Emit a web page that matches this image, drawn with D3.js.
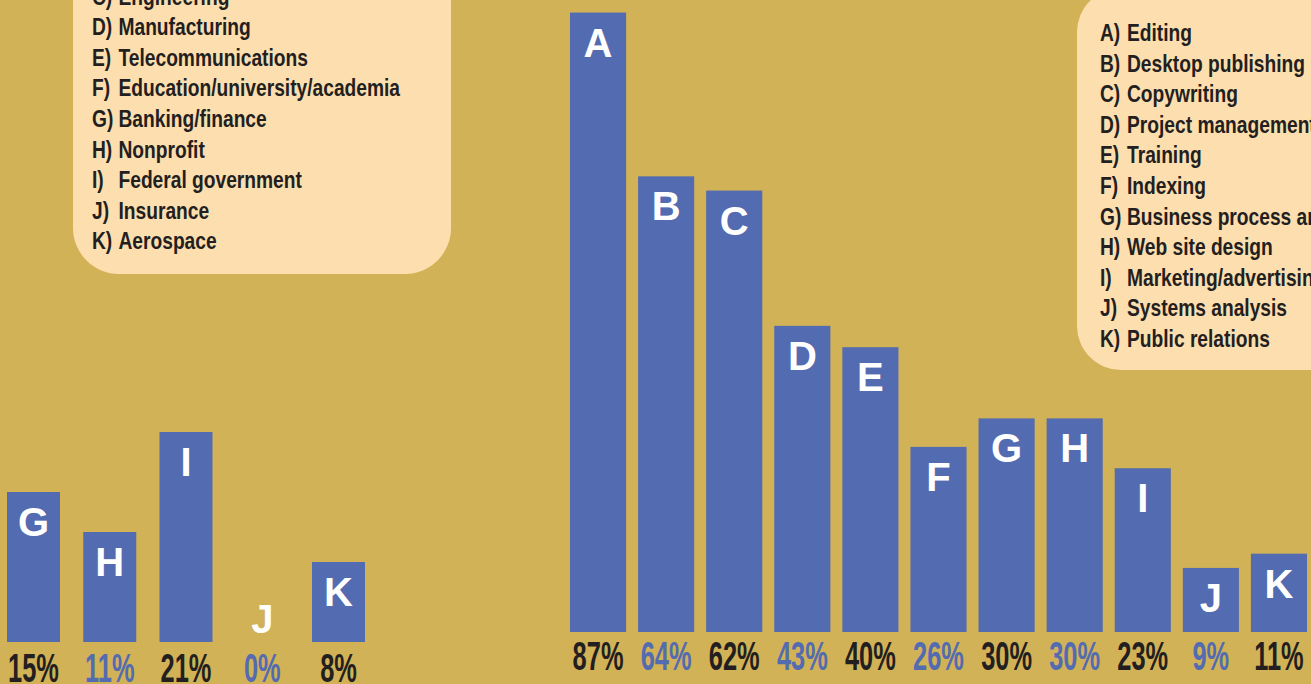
<!DOCTYPE html>
<html>
<head>
<meta charset="utf-8">
<script src="https://cdn.jsdelivr.net/npm/d3@7"></script>
<style>
  body { margin: 0; background: #D2B256; overflow: hidden; }
</style>
</head>
<body>
<div id="viz"></div>
<script>
//Colores fijos
const COLOR_BG = '#D2B256',
COLOR_BOX = '#FDDEAF',
COLOR_BAR = '#536BB0',
COLOR_TEXT = '#231F20';

//Datos - gráfico izquierdo (solo G-K visibles)
const leftLetters = ['G', 'H', 'I', 'J', 'K'];
const leftValues = [15, 11, 21, 0, 8];
const leftLegendKeys = ['C', 'D', 'E', 'F', 'G', 'H', 'I', 'J', 'K'];
const leftLegendLabels = ['Engineering', 'Manufacturing', 'Telecommunications', 'Education/university/academia',
    'Banking/finance', 'Nonprofit', 'Federal government', 'Insurance', 'Aerospace'];

//Datos - gráfico derecho
const rightLetters = ['A', 'B', 'C', 'D', 'E', 'F', 'G', 'H', 'I', 'J', 'K'];
const rightValues = [87, 64, 62, 43, 40, 26, 30, 30, 23, 9, 11];
const rightLegendKeys = ['A', 'B', 'C', 'D', 'E', 'F', 'G', 'H', 'I', 'J', 'K'];
const rightLegendLabels = ['Editing', 'Desktop publishing', 'Copywriting', 'Project management', 'Training',
    'Indexing', 'Business process analysis', 'Web site design', 'Marketing/advertising', 'Systems analysis', 'Public relations'];

const width = 1311, height = 684;

let svg = d3.select('#viz')
    .append('svg')
        .attr('width', width)
        .attr('height', height);

svg.append('rect')
    .attr('width', width)
    .attr('height', height)
    .attr('fill', COLOR_BG);

///// LEYENDAS
function drawLegend(box, keys, labels, x0, firstBaseline, labelOffset) {
    let g = svg.append('g');
    g.append('rect')
        .attr('x', box.x).attr('y', box.y)
        .attr('width', box.w).attr('height', box.h)
        .attr('rx', box.r).attr('ry', box.r)
        .attr('fill', COLOR_BOX);

    let rows = g.selectAll('.row')
        .data(keys)
        .enter()
        .append('g')
        .attr('class', 'row')
        .attr('transform', function(d, i) { return 'translate(0,' + (firstBaseline + i * 30.6) + ')'; });

    rows.append('text')
        .attr('transform', 'translate(' + x0 + ',0) scale(0.8,1)')
        .style('font-family', 'Liberation Sans, Arial, sans-serif')
        .style('font-weight', 'bold')
        .style('font-size', '24px')
        .attr('fill', COLOR_TEXT)
        .text(function(d) { return d + ')'; });

    rows.append('text')
        .attr('transform', 'translate(' + (x0 + labelOffset) + ',0) scale(0.8,1)')
        .style('font-family', 'Liberation Sans, Arial, sans-serif')
        .style('font-weight', 'bold')
        .style('font-size', '24px')
        .attr('fill', COLOR_TEXT)
        .text(function(d, i) { return labels[i]; });
}

drawLegend({x: 73, y: -80, w: 378, h: 354, r: 46}, leftLegendKeys, leftLegendLabels, 92, 4.5, 26.5);
drawLegend({x: 1077, y: -12, w: 300, h: 382, r: 44}, rightLegendKeys, rightLegendLabels, 1100, 41, 27);

///// BARRAS
function drawBars(letters, values, xRange, pad, y0, pxPerPct, pctBaseline) {
    let x = d3.scaleBand()
        .domain(letters)
        .range(xRange)
        .paddingInner(pad)
        .paddingOuter(0);

    let y = d3.scaleLinear()
        .domain([0, 100])
        .range([y0, y0 - 100 * pxPerPct]);

    let data = letters.map(function(d, i) { return {letter: d, value: values[i], idx: rightLetters.indexOf(d)}; });

    let g = svg.append('g');

    g.selectAll('.bar')
        .data(data)
        .enter()
        .append('rect')
        .attr('class', 'bar')
        .attr('x', function(d) { return x(d.letter); })
        .attr('y', function(d) { return y(d.value); })
        .attr('width', x.bandwidth())
        .attr('height', function(d) { return y0 - y(d.value); })
        .attr('fill', COLOR_BAR);

    g.selectAll('.letter')
        .data(data)
        .enter()
        .append('text')
        .attr('class', 'letter')
        .attr('x', function(d) { return x(d.letter) + x.bandwidth() / 2; })
        .attr('y', function(d) { return Math.min(y(d.value) + 44, y0 - 9); })
        .attr('text-anchor', 'middle')
        .style('font-family', 'Liberation Sans, Arial, sans-serif')
        .style('font-weight', 'bold')
        .style('font-size', '40px')
        .attr('fill', '#FFFFFF')
        .text(function(d) { return d.letter; });

    g.selectAll('.pct')
        .data(data)
        .enter()
        .append('text')
        .attr('class', 'pct')
        .attr('transform', function(d) {
            return 'translate(' + (x(d.letter) + x.bandwidth() / 2) + ',' + pctBaseline + ') scale(0.62,1)';
        })
        .attr('text-anchor', 'middle')
        .style('font-family', 'Liberation Sans, Arial, sans-serif')
        .style('font-weight', 'bold')
        .style('font-size', '41px')
        .attr('fill', function(d) { return d.idx % 2 == 0 ? COLOR_TEXT : COLOR_BAR; })
        .text(function(d) { return d.value + '%'; });
}

drawBars(leftLetters, leftValues, [7, 365], 0.305, 642, 10, 682);
drawBars(rightLetters, rightValues, [570, 1307], 0.176, 632, 7.12, 670);
</script>
</body>
</html>
